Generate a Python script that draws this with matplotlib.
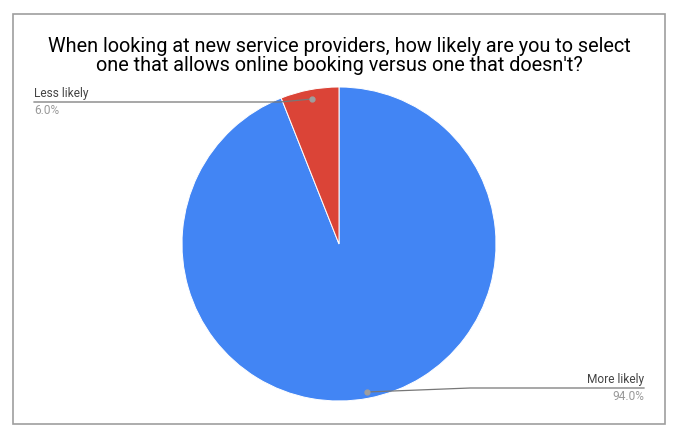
import matplotlib.pyplot as plt
from matplotlib.patches import Rectangle

plt.rcParams['font.family'] = ['Roboto', 'DejaVu Sans']

# data
labels = ['More likely', 'Less likely']
values = [94.0, 6.0]
colors = ['#4285F4', '#DB4437']
title = ("When looking at new service providers, how likely are you to select\n"
         "one that allows online booking versus one that doesn't?")

W, H = 683, 441
fig = plt.figure(figsize=(W / 100, H / 100), dpi=100)
ax = fig.add_axes([0, 0, 1, 1])

cx, cy, r = 339, H - 244, 157
wedges, _ = ax.pie(values, colors=colors, startangle=90, counterclock=False,
                   center=(cx, cy), radius=r,
                   wedgeprops=dict(edgecolor='white', linewidth=0.7))
ax.set_xlim(0, W)
ax.set_ylim(0, H)
ax.set_aspect('equal')
ax.axis('off')

# chart border
ax.add_patch(Rectangle((13, H - 424), 652, 410, fill=False,
                       edgecolor='#9e9e9e', linewidth=1.2))

ax.text(cx, H - 56, title, ha='center', va='center', fontsize=14.3,
        color='#000000', linespacing=1.0)

# leader lines + labels
line_col = '#777777'
# Less likely
ax.plot([34, 280, 312], [H - 102, H - 102, H - 99], color=line_col, lw=0.9)
ax.plot(312, H - 99, 'o', color='#9e9e9e', ms=3.5)
ax.text(34, H - 100, labels[1], ha='left', va='bottom', fontsize=8.6, color='#444444')
ax.text(34, H - 104, '%.1f%%' % values[1], ha='left', va='top', fontsize=8.6, color='#999999')

# More likely
ax.plot([367, 470, 644], [H - 392, H - 388, H - 388], color=line_col, lw=0.9)
ax.plot(367, H - 392, 'o', color='#9e9e9e', ms=3.5)
ax.text(644, H - 386, labels[0], ha='right', va='bottom', fontsize=8.6, color='#444444')
ax.text(644, H - 390, '%.1f%%' % values[0], ha='right', va='top', fontsize=8.6, color='#999999')

fig.savefig('out.png', dpi=100)
